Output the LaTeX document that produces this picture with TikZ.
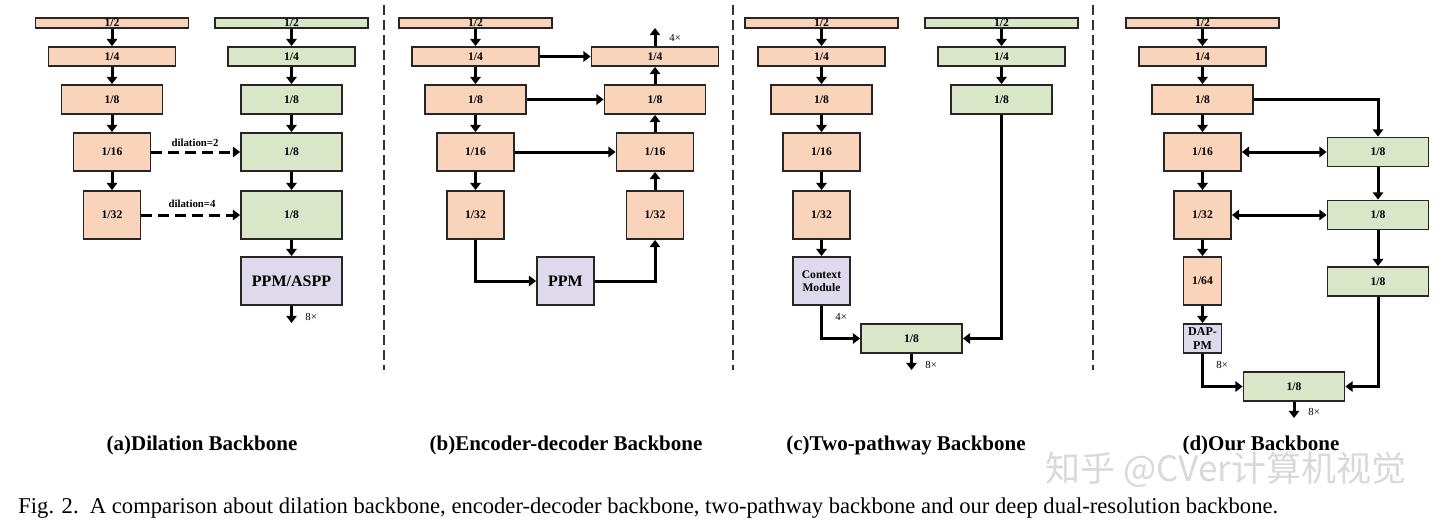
\documentclass[tikz,border=0pt]{standalone}
\usepackage{fontspec}
\setmainfont{Liberation Serif}
\newfontfamily\cjk{Noto Sans CJK SC}
\usetikzlibrary{arrows.meta}
\definecolor{org}{HTML}{F9D3BA}
\definecolor{grn}{HTML}{D9E6C8}
\definecolor{pur}{HTML}{DEDAEB}
\newcommand\bx[7]{\node[box,fill=#2,minimum width=#5*0.5pt,minimum height=#6*0.5pt] (#1) at (#3,#4) {#7};}
\begin{document}
\begin{tikzpicture}[x=0.5pt,y=-0.5pt,
  box/.style={draw=black!85,line width=0.9pt,inner sep=0pt,align=center,
    font=\fontsize{5.8}{6.4}\selectfont\bfseries},
  ar/.style={line width=1.5pt,-{Triangle[width=5.2pt,length=3.6pt]}},
  dar/.style={line width=1.5pt,{Triangle[width=5.2pt,length=3.6pt]}-{Triangle[width=5.2pt,length=3.6pt]}},
  dsh/.style={ar,dash pattern=on 5.5pt off 3pt},
  lab/.style={font=\fontsize{5.4}{6}\selectfont\bfseries,inner sep=0pt},
  mul/.style={font=\fontsize{5.4}{6}\selectfont,inner sep=0pt,anchor=west},
  sep/.style={line width=0.8pt,black!80,dash pattern=on 5pt off 2.5pt},
  captxt/.style={font=\fontsize{10.5}{12}\selectfont\bfseries,inner sep=0pt}]
\useasboundingbox (0,0) rectangle (1440,530);
% separators
\draw[sep] (384,5) -- (384,370);
\draw[sep] (733,5) -- (733,370);
\draw[sep] (1093,5) -- (1093,370);
% ---------- (a)
\bx{a1}{org}{112}{23}{153}{10}{1/2}
\bx{a2}{org}{112}{56.5}{127}{19}{1/4}
\bx{a3}{org}{112}{99.5}{101}{29}{1/8}
\bx{a4}{org}{112}{152}{77}{38}{1/16}
\bx{a5}{org}{112}{215}{57}{48}{1/32}
\bx{g1}{grn}{291.5}{23}{153}{10}{1/2}
\bx{g2}{grn}{291.5}{56.5}{127}{19}{1/4}
\bx{g3}{grn}{291.5}{99.5}{101}{29}{1/8}
\bx{g4}{grn}{291.5}{152}{101}{38}{1/8}
\bx{g5}{grn}{291.5}{215}{101}{48}{1/8}
\node[box,fill=pur,minimum width=50.5pt,minimum height=24pt,font=\fontsize{8}{9}\selectfont\bfseries] (g6) at (291.5,281) {PPM/ASPP};
\draw[ar] (a1)--(a2); \draw[ar] (a2)--(a3); \draw[ar] (a3)--(a4); \draw[ar] (a4)--(a5);
\draw[ar] (g1)--(g2); \draw[ar] (g2)--(g3); \draw[ar] (g3)--(g4); \draw[ar] (g4)--(g5); \draw[ar] (g5)--(g6);
\draw[dsh] (a4)--(g4);
\draw[dsh] (a5)--(g5);
\node[lab] (ld2) at (195,143) {dilation=2};
\node[lab] (ld4) at (192,204) {dilation=4};
\coordinate (ao) at (291.5,323);
\draw[ar] (g6)--(ao);
\node[mul] (am) at (305,317) {8×};
% ---------- (b)
\bx{b1}{org}{475.5}{23}{153}{10}{1/2}
\bx{b2}{org}{475.5}{56.5}{127}{19}{1/4}
\bx{b3}{org}{475.5}{99.5}{101}{29}{1/8}
\bx{b4}{org}{475.5}{152}{77}{38}{1/16}
\bx{b5}{org}{475.5}{215}{57}{48}{1/32}
\bx{r2}{org}{655}{56.5}{127}{19}{1/4}
\bx{r3}{org}{655}{99.5}{101}{29}{1/8}
\bx{r4}{org}{655}{152}{77}{38}{1/16}
\bx{r5}{org}{655}{215}{57}{48}{1/32}
\node[box,fill=pur,minimum width=28.5pt,minimum height=24pt,font=\fontsize{8}{9}\selectfont\bfseries] (bp) at (565.5,281) {PPM};
\draw[ar] (b1)--(b2); \draw[ar] (b2)--(b3); \draw[ar] (b3)--(b4); \draw[ar] (b4)--(b5);
\draw[ar] (b5.south) |- (bp.west);
\draw[ar] (bp.east) -| (r5.south);
\draw[ar] (r5)--(r4); \draw[ar] (r4)--(r3); \draw[ar] (r3)--(r2);
\draw[ar] (b2)--(r2); \draw[ar] (b3)--(r3); \draw[ar] (b4)--(r4);
\coordinate (bo) at (655,28);
\draw[ar] (r2)--(bo);
\node[mul] (bm) at (669,38) {4×};
% ---------- (c)
\bx{c1}{org}{821.5}{23}{153}{10}{1/2}
\bx{c2}{org}{821.5}{56.5}{127}{19}{1/4}
\bx{c3}{org}{821.5}{99.5}{101}{29}{1/8}
\bx{c4}{org}{821.5}{152}{77}{38}{1/16}
\bx{c5}{org}{821.5}{215}{57}{48}{1/32}
\bx{cm}{pur}{821.5}{281}{57}{48}{Context\\Module}
\bx{h1}{grn}{1001.5}{23}{153}{10}{1/2}
\bx{h2}{grn}{1001.5}{56.5}{127}{19}{1/4}
\bx{h3}{grn}{1001.5}{99.5}{101}{29}{1/8}
\bx{cb}{grn}{911.5}{338.5}{101}{29}{1/8}
\draw[ar] (c1)--(c2); \draw[ar] (c2)--(c3); \draw[ar] (c3)--(c4); \draw[ar] (c4)--(c5); \draw[ar] (c5)--(cm);
\draw[ar] (h1)--(h2); \draw[ar] (h2)--(h3);
\draw[ar] (cm.south) |- (cb.west);
\draw[ar] (h3.south) |- (cb.east);
\coordinate (co) at (911.5,370);
\draw[ar] (cb)--(co);
\node[mul] (cm4) at (835,317) {4×};
\node[mul] (cm8) at (925,365) {8×};
% ---------- (d)
\bx{d1}{org}{1202.5}{23}{153}{10}{1/2}
\bx{d2}{org}{1202.5}{56.5}{127}{19}{1/4}
\bx{d3}{org}{1202.5}{99.5}{101}{29}{1/8}
\bx{d4}{org}{1202.5}{152}{77}{38}{1/16}
\bx{d5}{org}{1202.5}{215}{57}{48}{1/32}
\bx{d6}{org}{1202.5}{281}{38}{48}{1/64}
\node[box,fill=pur,minimum width=19pt,minimum height=14.5pt,font=\fontsize{6}{6.6}\selectfont\bfseries] (dp) at (1202.5,338.5) {DAP-\\PM};
\bx{e1}{grn}{1378}{152}{101}{29}{1/8}
\bx{e2}{grn}{1378}{215}{101}{29}{1/8}
\bx{e3}{grn}{1378}{281.5}{101}{29}{1/8}
\bx{db}{grn}{1294}{386.5}{101}{29}{1/8}
\draw[ar] (d1)--(d2); \draw[ar] (d2)--(d3); \draw[ar] (d3)--(d4); \draw[ar] (d4)--(d5); \draw[ar] (d5)--(d6); \draw[ar] (d6)--(dp);
\draw[ar] (d3.east) -| (e1.north);
\draw[dar] (d4)--(e1);
\draw[dar] (d5)--(e2);
\draw[ar] (e1)--(e2); \draw[ar] (e2)--(e3);
\draw[ar] (dp.south) |- (db.west);
\draw[ar] (e3.south) |- (db.east);
\coordinate (do) at (1294,418);
\draw[ar] (db)--(do);
\node[mul] (dm1) at (1216,365) {8×};
\node[mul] (dm2) at (1308,412) {8×};
% ---------- captions
\node[captxt] (ca) at (202,445) {(a)Dilation Backbone};
\node[captxt] (cbb) at (566,445) {(b)Encoder-decoder Backbone};
\node[captxt] (cc) at (906,445) {(c)Two-pathway Backbone};
\node[captxt] (cd) at (1261,445) {(d)Our Backbone};
\node[text=gray!30,font=\cjk\fontsize{17.5}{17.5}\selectfont,inner sep=0pt] (wm) at (1226,470) {知乎 @CVer计算机视觉};
\node[anchor=west,inner sep=0pt,font=\fontsize{11.3}{12}\selectfont] (fig) at (18,508) {Fig. 2.\ \ A comparison about dilation backbone, encoder-decoder backbone, two-pathway backbone and our deep dual-resolution backbone.};
\end{tikzpicture}
\end{document}
